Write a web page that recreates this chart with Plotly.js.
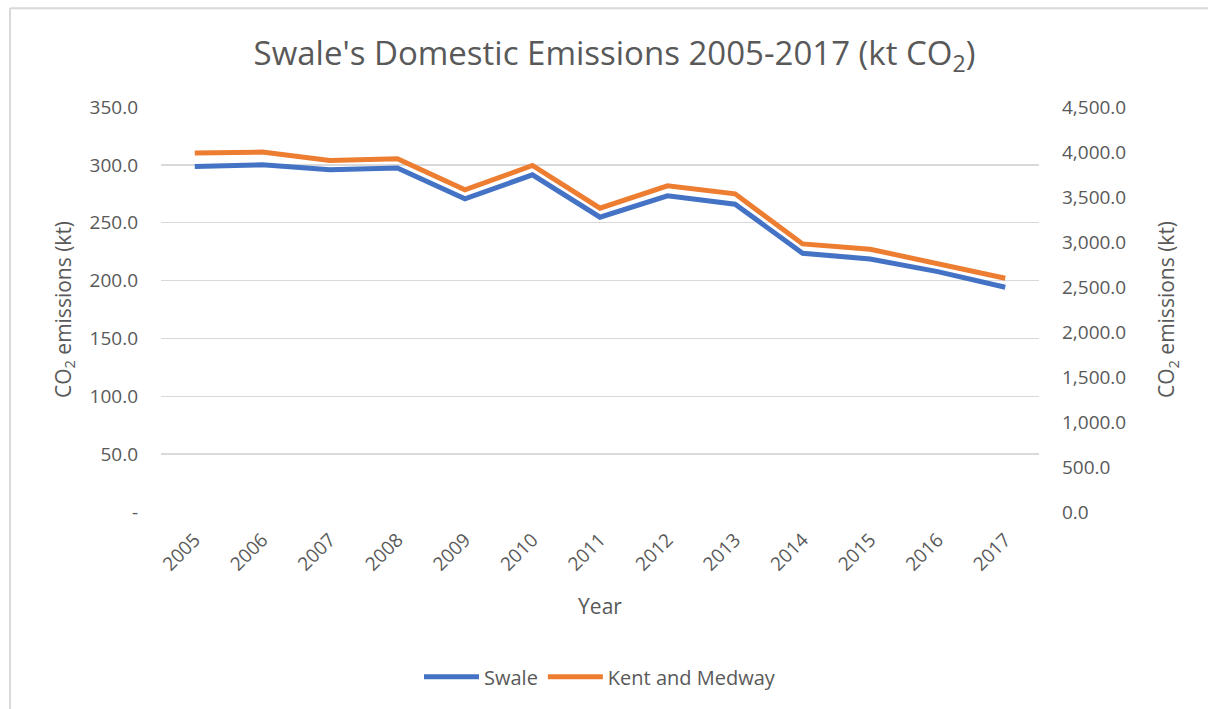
<!DOCTYPE html>
<html>
<head>
<meta charset="utf-8">
<script src="https://cdn.plot.ly/plotly-3.0.1.min.js"></script>
<style>html,body{margin:0;padding:0;background:#fff;}#chart{width:1208px;height:709px;}</style>
</head>
<body>
<div id="chart"></div>
<script>
const years = ['2005','2006','2007','2008','2009','2010','2011','2012','2013','2014','2015','2016','2017'];
const swale = [298.6, 300.1, 295.7, 297.2, 270.6, 291.4, 254.8, 273.2, 266.0, 223.6, 218.7, 207.7, 194.2];
const kentMedway = [3988, 3999, 3906, 3925, 3580, 3850, 3376, 3624, 3535, 2979, 2920, 2764, 2597];
const leftTickVals = [0, 50, 100, 150, 200, 250, 300, 350];
const leftTickText = ['-', '50.0', '100.0', '150.0', '200.0', '250.0', '300.0', '350.0'];
const rightTickVals = [0, 500, 1000, 1500, 2000, 2500, 3000, 3500, 4000, 4500];

const font = 'Open Sans, Noto Sans, sans-serif';
const grey = '#595959';

const traces = [
  {x: years, y: swale, name: 'Swale', type: 'scatter', mode: 'lines',
   line: {color: '#4472C4', width: 5}, yaxis: 'y'},
  {x: years, y: kentMedway, name: 'Kent and Medway', type: 'scatter', mode: 'lines',
   line: {color: '#ED7D31', width: 5}, yaxis: 'y2'}
];

const layout = {
  width: 1208, height: 709,
  margin: {l: 161, r: 169, t: 107, b: 197},
  paper_bgcolor: '#fff', plot_bgcolor: '#fff',
  font: {family: font, color: grey, size: 19},
  title: {text: "Swale's Domestic Emissions 2005-2017 (kt CO<sub>2</sub>)",
          font: {size: 33, color: grey, family: font}, x: 0.5087, xanchor: 'center', y: 0.925, yanchor: 'middle'},
  xaxis: {type: 'category', range: [-0.5, 12.5], tickangle: -45, showgrid: false, zeroline: false, showline: false,
          ticks: '', ticklabelstandoff: 12, tickfont: {size: 19, color: grey},
          title: {text: 'Year', font: {size: 21, color: grey}, standoff: 24}},
  yaxis: {range: [0, 350], tickvals: leftTickVals, ticktext: leftTickText,
          gridcolor: '#D9D9D9', gridwidth: 1.5, zeroline: false, showline: false, ticks: '',
          ticklabelstandoff: 22, tickfont: {size: 19, color: grey},
          title: {text: 'CO<sub>2</sub> emissions (kt)', font: {size: 21, color: grey}, standoff: 12}},
  yaxis2: {range: [0, 4500], overlaying: 'y', side: 'right', tickvals: rightTickVals,
           tickformat: ',.1f', showgrid: false, zeroline: false, showline: false, ticks: '',
           ticklabelstandoff: 22, tickfont: {size: 19, color: grey},
           title: {text: 'CO<sub>2</sub> emissions (kt)', font: {size: 21, color: grey}, standoff: 34}},
  legend: {orientation: 'h', x: 0.5, xanchor: 'center', y: -0.407, yanchor: 'middle',
           itemwidth: 55, font: {size: 20, color: grey}},
  showlegend: true,
  shapes: [
    {type: 'line', xref: 'paper', yref: 'paper', x0: -0.172, x1: 1.2, y0: 1.244, y1: 1.244,
     line: {color: '#D9D9D9', width: 2}},
    {type: 'line', xref: 'paper', yref: 'paper', x0: -0.172, x1: -0.172, y0: 1.244, y1: -0.5,
     line: {color: '#D9D9D9', width: 2}}
  ]
};

Plotly.newPlot('chart', traces, layout, {displayModeBar: false, staticPlot: true});
</script>
</body>
</html>
